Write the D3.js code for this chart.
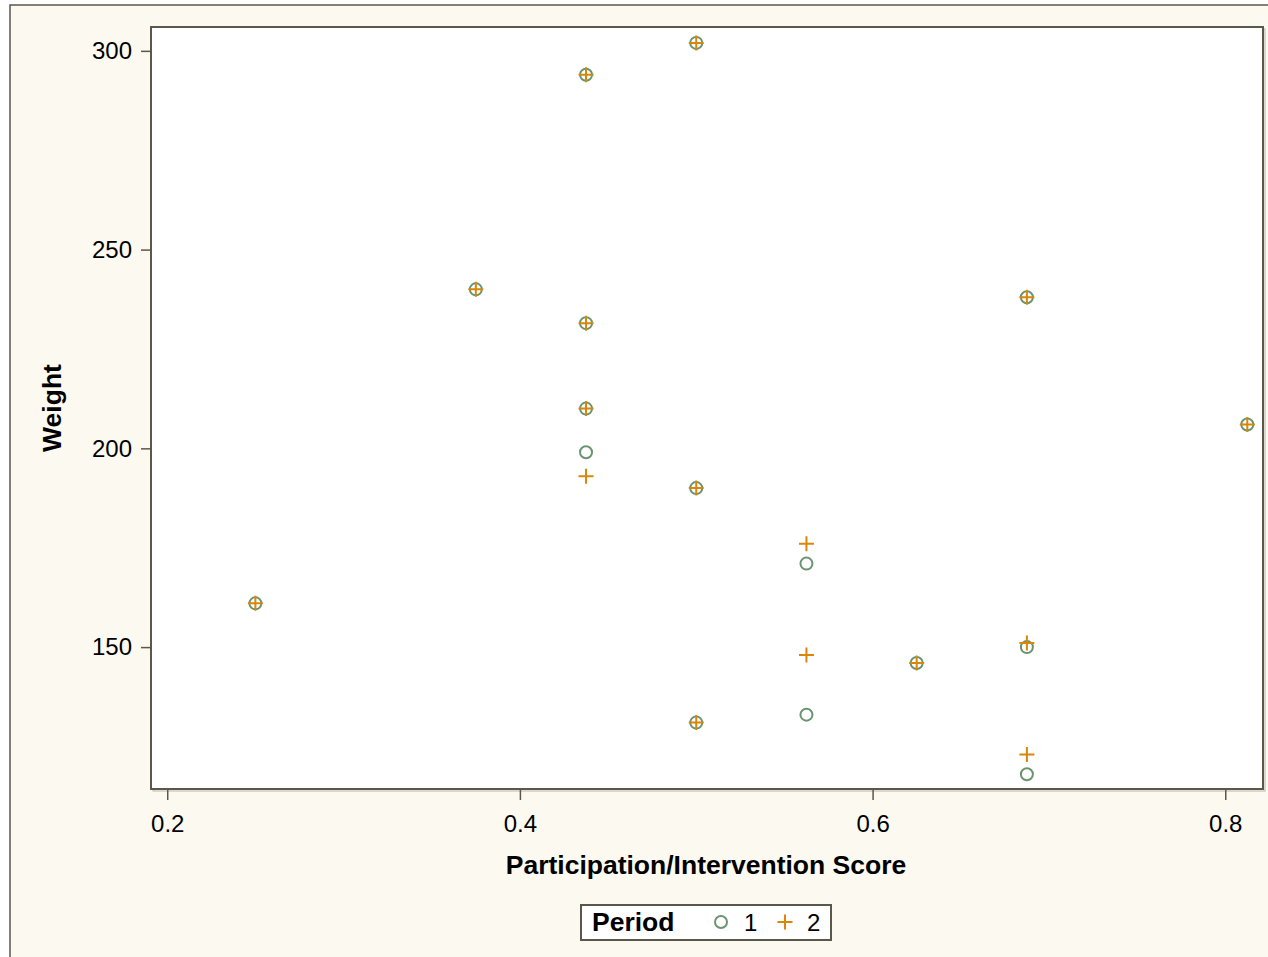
<!DOCTYPE html>
<html>
<head>
<meta charset="utf-8">
<script src="https://cdn.jsdelivr.net/npm/d3@7"></script>
<style>
  body { margin: 0; background: #ffffff; }
  svg { display: block; font-family: "Liberation Sans", Arial, sans-serif; }
</style>
</head>
<body>
<div id="chart"></div>
<script>
// participation score per subject, with weight in period 1 and period 2
var scores  = [0.25, 0.375, 0.4375, 0.4375, 0.4375, 0.4375, 0.5, 0.5, 0.5, 0.5625, 0.5625, 0.625, 0.6875, 0.6875, 0.6875, 0.8125];
var weight1 = [161, 240, 294, 231.5, 210, 199, 302, 190, 131, 171, 133, 146, 238, 150, 118, 206];
var weight2 = [161, 240, 294, 231.5, 210, 193, 302, 190, 131, 176, 148, 146, 238, 151, 123, 206];
var xTicks = [0.2, 0.4, 0.6, 0.8];
var yTicks = [150, 200, 250, 300];
var periods = ["1", "2"];

var svgWidth = 1268;
var svgHeight = 957;
var plot = { left: 151, top: 27, right: 1263, bottom: 789 };

var cream = "#fcf9f1";
var frameColor = "#5b574a";
var c1 = "#6a9470";
var c2 = "#d9860a";

var svg = d3.select("#chart")
    .append("svg")
    .attr("width", svgWidth)
    .attr("height", svgHeight);

// outer frame (cut off at right and bottom)
svg.append("rect")
    .attr("x", 10).attr("y", 5)
    .attr("width", svgWidth + 20).attr("height", svgHeight + 20)
    .attr("fill", cream)
    .attr("stroke", frameColor)
    .attr("stroke-width", 1.5);

// plot area
svg.append("rect")
    .attr("x", plot.left + 2).attr("y", plot.top + 2)
    .attr("width", plot.right - plot.left).attr("height", plot.bottom - plot.top)
    .attr("fill", "none")
    .attr("stroke", "#b9b6ad")
    .attr("stroke-width", 1);
svg.append("rect")
    .attr("x", plot.left).attr("y", plot.top)
    .attr("width", plot.right - plot.left).attr("height", plot.bottom - plot.top)
    .attr("fill", "#ffffff")
    .attr("stroke", frameColor)
    .attr("stroke-width", 2);

var x = d3.scaleLinear()
    .domain([0.1908, 0.8214])
    .range([plot.left, plot.right]);
var y = d3.scaleLinear()
    .domain([114.3, 306])
    .range([plot.bottom, plot.top]);

var xAxis = svg.append("g")
    .attr("transform", `translate(0,${plot.bottom})`)
    .call(d3.axisBottom(x).tickValues(xTicks).tickSize(11).tickPadding(15).tickFormat(d3.format(".1f")));
var yAxis = svg.append("g")
    .attr("transform", `translate(${plot.left},0)`)
    .call(d3.axisLeft(y).tickValues(yTicks).tickSize(10).tickPadding(9));

[xAxis, yAxis].forEach(function(ax) {
    ax.select(".domain").remove();
    ax.selectAll(".tick line").attr("stroke", frameColor).attr("stroke-width", 1.5);
    ax.selectAll(".tick text")
        .attr("fill", "#000")
        .attr("font-size", 24)
        .attr("font-family", "Liberation Sans, Arial, sans-serif");
});

// axis titles
svg.append("text")
    .attr("transform", "translate(61,408) rotate(-90)")
    .attr("text-anchor", "middle")
    .attr("font-size", 26.5)
    .attr("font-weight", "bold")
    .text("Weight");

svg.append("text")
    .attr("x", 706)
    .attr("y", 874)
    .attr("text-anchor", "middle")
    .attr("font-size", 26.5)
    .attr("font-weight", "bold")
    .text("Participation/Intervention Score");

var plusPath = "M-7.5,0H7.5M0,-7.5V7.5";

// period 1 circles
svg.append("g").selectAll("circle")
    .data(scores)
    .enter()
    .append("circle")
    .attr("cx", function(d) { return x(d); })
    .attr("cy", function(d, i) { return y(weight1[i]); })
    .attr("r", 6)
    .attr("fill", "none")
    .attr("stroke", c1)
    .attr("stroke-width", 2);

// period 2 plus signs
svg.append("g").selectAll("path")
    .data(scores)
    .enter()
    .append("path")
    .attr("transform", function(d, i) { return "translate(" + x(d) + "," + y(weight2[i]) + ")"; })
    .attr("d", plusPath)
    .attr("fill", "none")
    .attr("stroke", c2)
    .attr("stroke-width", 2);

// legend
var legend = svg.append("g");
legend.append("rect")
    .attr("x", 581).attr("y", 905)
    .attr("width", 250).attr("height", 35)
    .attr("fill", "#ffffff")
    .attr("stroke", frameColor)
    .attr("stroke-width", 2);
legend.append("text")
    .attr("x", 592).attr("y", 931)
    .attr("font-size", 26.5)
    .attr("font-weight", "bold")
    .text("Period");
legend.append("circle")
    .attr("cx", 721).attr("cy", 922).attr("r", 6)
    .attr("fill", "none").attr("stroke", c1).attr("stroke-width", 2);
legend.append("text")
    .attr("x", 744).attr("y", 931)
    .attr("font-size", 24)
    .text(periods[0]);
legend.append("path")
    .attr("transform", "translate(785,922)")
    .attr("d", plusPath)
    .attr("fill", "none").attr("stroke", c2).attr("stroke-width", 2);
legend.append("text")
    .attr("x", 807).attr("y", 931)
    .attr("font-size", 24)
    .text(periods[1]);
</script>
</body>
</html>
